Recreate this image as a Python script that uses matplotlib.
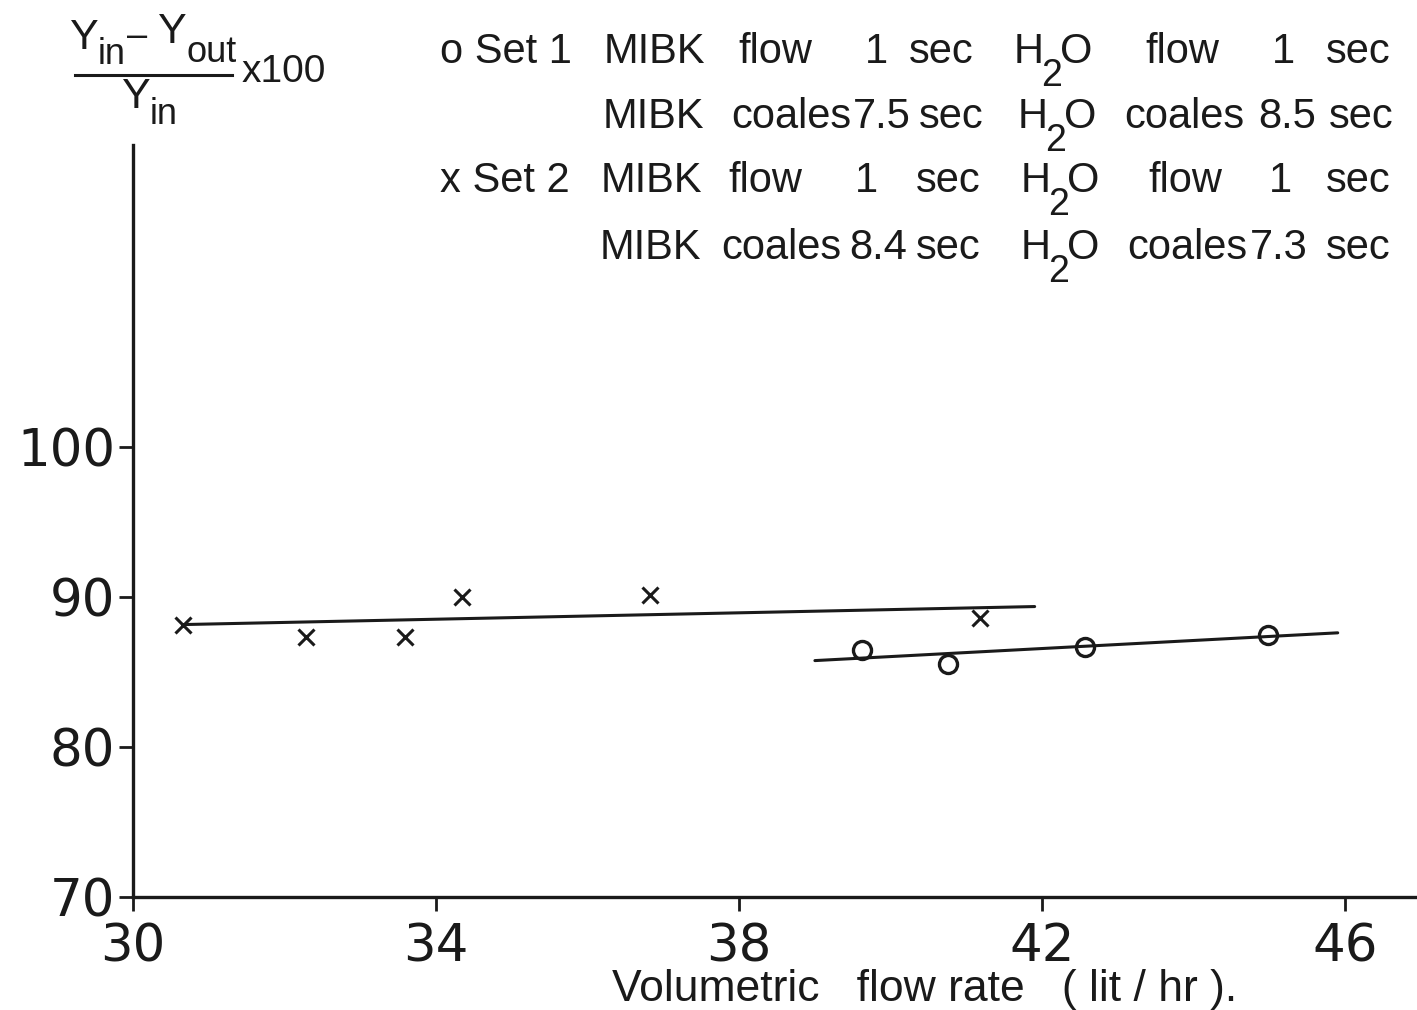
import matplotlib.pyplot as plt
from matplotlib.lines import Line2D

# Set 1 (circles) and Set 2 (crosses)
set1_x = [39.62, 40.75, 42.57, 44.98]
set1_y = [86.45, 85.5, 86.65, 87.45]
set2_x = [30.66, 32.28, 33.59, 34.34, 36.82, 41.18]
set2_y = [88.1, 87.3, 87.3, 90.0, 90.1, 88.6]

# hand drawn fit lines (end points)
fit1_x = [39.0, 45.9]
fit1_y = [85.75, 87.6]
fit2_x = [30.66, 41.9]
fit2_y = [88.15, 89.35]

xticks = [30, 34, 38, 42, 46]
yticks = [70, 80, 90, 100]

W, H = 1417, 1010
plt.rcParams['font.family'] = ['Liberation Sans', 'DejaVu Sans']

fig = plt.figure(figsize=(W / 100, H / 100), dpi=100)
ax = fig.add_axes([133 / W, 1 - 897 / H, (1415 - 133) / W, (897 - 145) / H])

ax.plot(fit2_x, fit2_y, color='#1a1a1a', lw=2.2, solid_capstyle='round')
ax.plot(fit1_x, fit1_y, color='#1a1a1a', lw=2.2, solid_capstyle='round')
ax.plot(set2_x, set2_y, 'x', color='#1a1a1a', ms=11, mew=2.2)
ax.plot(set1_x, set1_y, 'o', color='#1a1a1a', ms=13, mew=2.4, mfc='none')

ax.set_xlim(30, 46.92)
ax.set_ylim(70, 120.1)
ax.set_xticks(xticks)
ax.set_yticks(yticks)
ax.tick_params(direction='out', length=10, width=2, labelsize=37, colors='#1a1a1a')
ax.tick_params(axis='x', pad=8)
ax.tick_params(axis='y', pad=3)
for lab in ax.get_xticklabels() + ax.get_yticklabels():
    lab.set_family(['DejaVu Sans'])
for s in ['top', 'right']:
    ax.spines[s].set_visible(False)
for s in ['left', 'bottom']:
    ax.spines[s].set_linewidth(2.4)
    ax.spines[s].set_color('#1a1a1a')


def put(x, y, s, size=30, **kw):
    fig.text(x / W, 1 - y / H, s, fontsize=size, va='center', ha='left',
             color='#1a1a1a', **kw)


def h2o(x, y):
    put(x, y, 'H')
    put(x + 27, y + 24, '2', size=27)
    put(x + 46, y, 'O')


# legend block
rows = [
    (52, 'o Set 1', [(604, 'MIBK'), (738, 'flow'), (865, '1'), (909, 'sec'),
                     (1145, 'flow'), (1272, '1'), (1326, 'sec')], 1014),
    (117, '', [(603, 'MIBK'), (731, 'coales'), (853, '7.5'), (919, 'sec'),
               (1124, 'coales'), (1258, '8.5'), (1329, 'sec')], 1018),
    (181, 'x Set 2', [(601, 'MIBK'), (728, 'flow'), (855, '1'), (916, 'sec'),
                      (1148, 'flow'), (1269, '1'), (1326, 'sec')], 1021),
    (248, '', [(600, 'MIBK'), (721, 'coales'), (849, '8.4'), (916, 'sec'),
               (1127, 'coales'), (1250, '7.3'), (1326, 'sec')], 1021),
]
for y, label, words, hx in rows:
    if label:
        put(440, y, label)
    for x, w in words:
        put(x, y, w)
    h2o(hx, y)

# y-axis label as a fraction
put(70, 38, 'Y', size=31)
put(98, 55, 'in', size=26)
put(127, 36, '\u2013', size=26)
put(158, 32, 'Y', size=31)
put(186, 52, 'out', size=26)
fig.add_artist(Line2D([75 / W, 232 / W], [1 - 75 / H, 1 - 75 / H],
                      color='#1a1a1a', lw=2.2))
put(122, 97, 'Y', size=31)
put(150, 115, 'in', size=26)
put(242, 72, 'x100', size=28)

# x-axis label
put(612, 990, 'Volumetric   flow rate   ( lit / hr ).', size=32)

fig.savefig('out.png', dpi=100, facecolor='white')
